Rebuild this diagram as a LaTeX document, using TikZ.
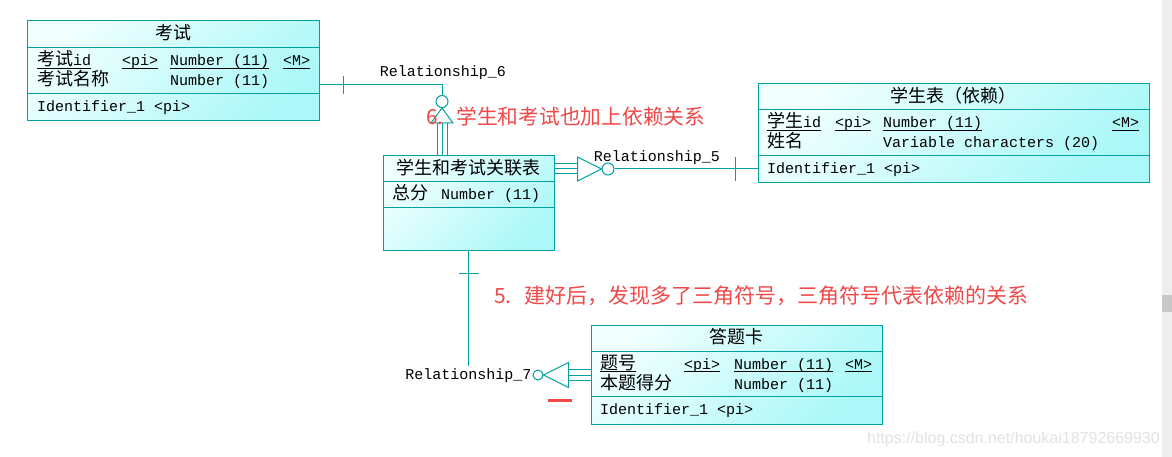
\documentclass[tikz,border=0pt]{standalone}
\usepackage{fontspec}
\usepackage{xcolor}
\usepackage{tikz}
\setmainfont{Liberation Mono}
\newfontfamily\cjk[Scale=1.2]{Noto Sans CJK SC}
\newfontfamily\notefont{Noto Sans CJK SC}
\newfontfamily\markfont{Liberation Sans}
\definecolor{erLine}{RGB}{0,160,160}
\definecolor{erLight}{RGB}{240,255,255}
\definecolor{erCyan}{RGB}{172,248,248}
\definecolor{noteRed}{RGB}{240,72,72}
\definecolor{barGrey}{RGB}{238,238,238}
\definecolor{thumbGrey}{RGB}{200,200,200}
\definecolor{markGrey}{RGB}{226,226,226}
\newcommand{\zh}[1]{{\cjk #1}}

\begin{document}
\begin{tikzpicture}[x=1pt, y=-1pt,
  entity/.style={draw=erLine, line width=1pt, inner sep=0pt,
    top color=erLight, bottom color=erCyan, shading angle=45},
  rel/.style={draw=erLine, line width=1pt},
  knot/.style={circle, draw=erLine, line width=1pt, inner sep=0pt, minimum size=12pt},
  attr/.style={anchor=base west, inner sep=0pt, font=\fontsize{15}{18}\selectfont},
  title/.style={anchor=base, inner sep=0pt, font=\fontsize{15}{18}\selectfont\cjk},
  relname/.style={anchor=base, inner sep=2pt, font=\fontsize{15}{18}\selectfont},
  note/.style={anchor=base west, inner sep=0pt, text=noteRed},
  uline/.style={line width=0.9pt, black}]

%
\fill[white] (0,0) rectangle (1172,457);
\useasboundingbox (0,0) rectangle (1172,457);
\fill[barGrey] (1162,0) rectangle (1172,457);
\fill[thumbGrey] (1162,295) rectangle (1172,312);

%
\node[entity, minimum width=292pt, minimum height=100pt] (ks) at (173,71) {};
\draw[rel] ([yshift=-27pt]ks.north west) -- ([yshift=-27pt]ks.north east);
\draw[rel] ([yshift=-73pt]ks.north west) -- ([yshift=-73pt]ks.north east);
\node[title] (ks-t) at ([yshift=-19pt]ks.north) {考试};
\node[attr] (ks-id) at (37,66) {\zh{考试}id};
\node[attr] (ks-pi) at (122,66) {<pi>};
\node[attr] (ks-num) at (170,66) {Number (11)};
\node[attr] (ks-m) at (283,66) {<M>};
\node[attr] (ks-name) at (37,86) {\zh{考试名称}};
\node[attr] (ks-num2) at (170,86) {Number (11)};
\node[attr] (ks-key) at (37,112) {Identifier\_1 <pi>};

%
\node[entity, minimum width=391pt, minimum height=99pt] (xs) at (953.5,133.5) {};
\draw[rel] ([yshift=-26pt]xs.north west) -- ([yshift=-26pt]xs.north east);
\draw[rel] ([yshift=-72pt]xs.north west) -- ([yshift=-72pt]xs.north east);
\node[title] (xs-t) at ([yshift=-19pt]xs.north) {学生表（依赖）};
\node[attr] (xs-id) at (767,128) {\zh{学生}id};
\node[attr] (xs-pi) at (835,128) {<pi>};
\node[attr] (xs-num) at (883,128) {Number (11)};
\node[attr] (xs-m) at (1112,128) {<M>};
\node[attr] (xs-name) at (767,148) {\zh{姓名}};
\node[attr] (xs-var) at (883,148) {Variable characters (20)};
\node[attr] (xs-key) at (767,174) {Identifier\_1 <pi>};

%
\node[entity, minimum width=171pt, minimum height=94pt] (gl) at (468.5,203) {};
\draw[rel] ([yshift=-26pt]gl.north west) -- ([yshift=-26pt]gl.north east);
\draw[rel] ([yshift=-52pt]gl.north west) -- ([yshift=-52pt]gl.north east);
\node[title] (gl-t) at ([yshift=-19pt]gl.north) {学生和考试关联表};
\node[attr] (gl-sum) at (392,200) {\zh{总分}};
\node[attr] (gl-num) at (441,200) {Number (11)};

%
\node[entity, minimum width=291pt, minimum height=99pt] (dt) at (736.5,374.5) {};
\draw[rel] ([yshift=-27pt]dt.north west) -- ([yshift=-27pt]dt.north east);
\draw[rel] ([yshift=-72pt]dt.north west) -- ([yshift=-72pt]dt.north east);
\node[title] (dt-t) at ([yshift=-19pt]dt.north) {答题卡};
\node[attr] (dt-id) at (600,369) {\zh{题号}};
\node[attr] (dt-pi) at (684,369) {<pi>};
\node[attr] (dt-num) at (734,369) {Number (11)};
\node[attr] (dt-m) at (845,369) {<M>};
\node[attr] (dt-name) at (600,389) {\zh{本题得分}};
\node[attr] (dt-num2) at (734,389) {Number (11)};
\node[attr] (dt-key) at (600,414) {Identifier\_1 <pi>};

%
\foreach \n in {ks-id,ks-pi,ks-num,ks-m,xs-id,xs-pi,xs-num,xs-m,dt-id,dt-pi,dt-num,dt-m}
  \draw[uline] ([yshift=-2.5pt]\n.base west) -- ([yshift=-2.5pt]\n.base east);

%
\node[knot] (c6) at (442,101.5) {};
\coordinate (b6) at ([yshift=-15pt]c6.south);
\draw[rel] ([yshift=-14pt]ks.east) -| (c6.north);
\draw[rel] (343,76) -- (343,94);
\draw[rel] (c6.south) -- ([xshift=-11pt]b6) -- ([xshift=11pt]b6) -- cycle;
\foreach \dx in {-5,0,5} {
  \coordinate (p) at ([xshift=\dx pt]b6);
  \draw[rel] (p) -- (p |- gl.north);
}
\node[relname] (r6) at (443,77) {Relationship\_6};

%
\node[knot] (c5) at (608,169) {};
\coordinate (b5) at ([xshift=-24pt]c5.west);
\draw[rel] (c5.west) -- ([yshift=12pt]b5) -- ([yshift=-12pt]b5) -- cycle;
\foreach \dy in {-5,0,5} {
  \coordinate (p) at ([yshift=\dy pt]b5);
  \draw[rel] (p) -- (p -| gl.east);
}
\draw[rel] (c5.east) -- (c5.east -| xs.west);
\draw[rel] (735,157) -- (735,181);
\node[relname] (r5) at (657,162) {Relationship\_5};

%
\node[relname] (r7) at (468.5,379) {Relationship\_7};
\draw[rel] (gl.south) -- (r7.north);
\draw[rel] (459,273) -- (479,273);
\node[knot, minimum size=10pt] (c7) at (538,375) {};
\coordinate (b7) at ([xshift=25pt]c7.east);
\draw[rel] (c7.east) -- ([yshift=12.5pt]b7) -- ([yshift=-12.5pt]b7) -- cycle;
\foreach \dy in {-5.5,0,5.5} {
  \coordinate (p) at ([yshift=\dy pt]b7);
  \draw[rel] (p) -- (p -| dt.west);
}

%
\node[note, font=\notefont\fontsize{20.75}{24}\selectfont] (n6) at (426,125)
  {6.\hspace{13pt}学生和考试也加上依赖关系};
\node[note, font=\notefont\fontsize{21}{25}\selectfont] (n5) at (494,303)
  {5.\hspace{13pt}建好后，发现多了三角符号，三角符号代表依赖的关系};
\draw[noteRed, line width=3pt] (548,400) -- (572,400);

%
\node[anchor=base east, inner sep=0pt, text=markGrey, font=\markfont\fontsize{16}{19}\selectfont]
  (wm) at (1160,443) {https://blog.csdn.net/houkai18792669930};

\end{tikzpicture}
\end{document}
